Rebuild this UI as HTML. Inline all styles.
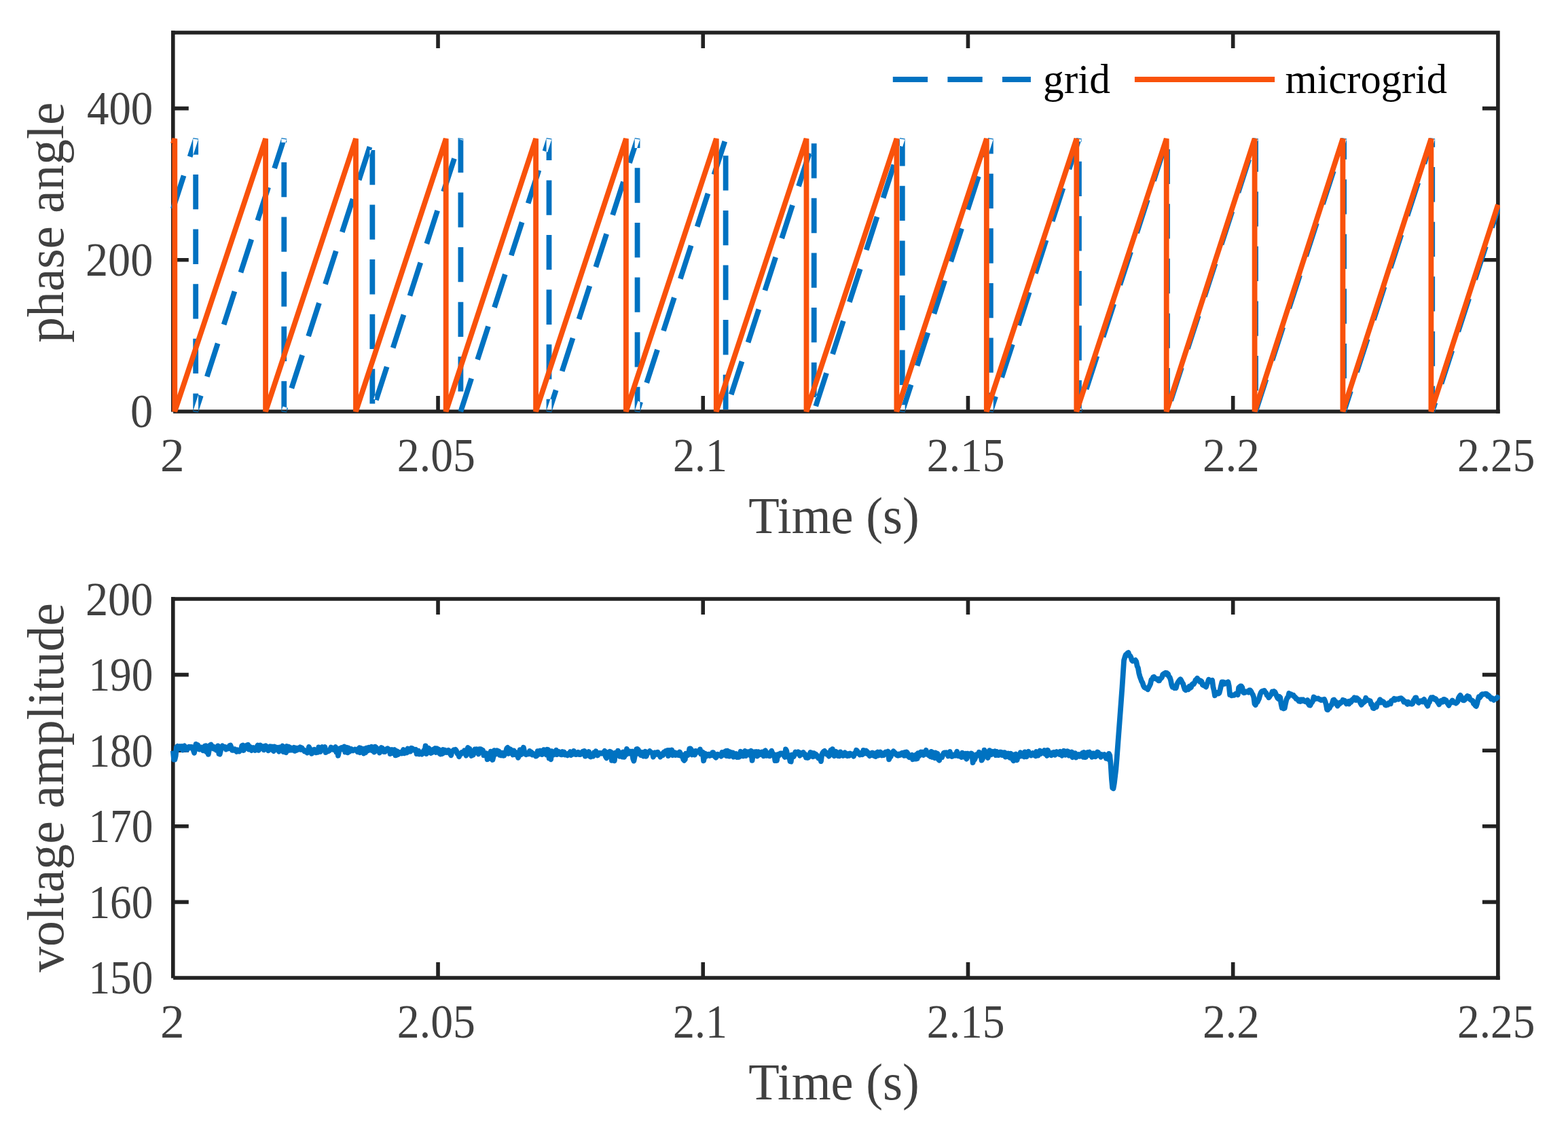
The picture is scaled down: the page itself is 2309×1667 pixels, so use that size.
<!DOCTYPE html><html><head><meta charset="utf-8"><style>html,body{margin:0;padding:0;background:#fff;width:2309px;height:1667px;overflow:hidden;}svg{display:block}</style></head><body>
<svg width="2309" height="1667" viewBox="0 0 2309 1667">
<rect width="2309" height="1667" fill="#fff"/>
<path d="M254.8 382.8H277.8M2205.9 382.8H2182.9M254.8 159.6H277.8M2205.9 159.6H2182.9M645.02 606V583M645.02 48V71M1035.24 606V583M1035.24 48V71M1425.46 606V583M1425.46 48V71M1815.68 606V583M1815.68 48V71M254.8 606.6V48H2205.9V606H255.1" stroke="#222222" stroke-width="5.6" fill="none" stroke-linejoin="miter" stroke-linecap="butt"/>
<path d="M252 45.2h5.6v5.6h-5.6zM2203.1 603.2h5.6v5.6h-5.6z" fill="#222222"/>
<defs><clipPath id="c1"><rect x="251" y="44" width="1957.9" height="565"/></clipPath><clipPath id="c2"><rect x="251" y="878" width="1957.9" height="565"/></clipPath></defs>
<g clip-path="url(#c1)"><path d="M258.51 308.60L274.31 259.80L266.89 257.40L251.09 306.20ZM283.34 231.92L291.91 205.44L284.30 204.24L284.30 227.70L292.10 227.70L292.10 204.24L284.49 203.04L275.92 229.52ZM284.30 257.00L284.30 308.30L292.10 308.30L292.10 257.00ZM284.30 337.60L284.30 388.90L292.10 388.90L292.10 337.60ZM284.30 418.20L284.30 469.50L292.10 469.50L292.10 418.20ZM284.30 498.80L284.30 550.10L292.10 550.10L292.10 498.80ZM284.30 579.40L284.30 606.00L291.91 607.20L299.52 583.70L292.10 581.30L284.49 604.80L292.10 606.00L292.10 579.40ZM308.54 555.82L324.35 507.02L316.93 504.61L301.12 553.42ZM333.37 479.14L349.17 430.34L341.75 427.93L325.95 476.74ZM358.20 402.46L374.00 353.65L366.58 351.25L350.78 400.06ZM383.02 325.78L398.82 276.97L391.40 274.57L375.60 323.38ZM407.85 249.10L421.98 205.44L414.37 204.24L414.37 209.65L422.17 209.65L422.17 204.24L414.56 203.04L400.43 246.69ZM414.37 238.95L414.37 290.25L422.17 290.25L422.17 238.95ZM414.37 319.55L414.37 370.85L422.17 370.85L422.17 319.55ZM414.37 400.15L414.37 451.45L422.17 451.45L422.17 400.15ZM414.37 480.75L414.37 532.05L422.17 532.05L422.17 480.75ZM414.37 561.35L414.37 606.00L421.98 607.20L424.03 600.87L416.61 598.47L414.56 604.80L422.17 606.00L422.17 561.35ZM433.06 573.00L448.86 524.19L441.44 521.79L425.64 570.59ZM457.88 496.31L473.69 447.51L466.26 445.11L450.46 493.91ZM482.71 419.63L498.51 370.83L491.09 368.43L475.29 417.23ZM507.54 342.95L523.34 294.15L515.92 291.74L500.12 340.55ZM532.36 266.27L548.16 217.47L540.74 215.06L524.94 263.87ZM544.45 220.90L544.45 272.20L552.25 272.20L552.25 220.90ZM544.45 301.50L544.45 352.80L552.25 352.80L552.25 301.50ZM544.45 382.10L544.45 433.40L552.25 433.40L552.25 382.10ZM544.45 462.70L544.45 514.00L552.25 514.00L552.25 462.70ZM544.45 543.30L544.45 594.60L552.25 594.60L552.25 543.30ZM557.57 590.17L573.37 541.36L565.95 538.96L550.15 587.77ZM582.40 513.49L598.20 464.68L590.78 462.28L574.98 511.09ZM607.22 436.81L623.02 388.00L615.60 385.60L599.80 434.40ZM632.05 360.13L647.85 311.32L640.43 308.92L624.63 357.72ZM656.88 283.44L672.68 234.64L665.26 232.24L649.46 281.04ZM681.70 206.76L682.13 205.44L674.52 204.24L674.52 254.15L682.32 254.15L682.32 204.24L674.71 203.04L674.28 204.36ZM674.52 283.45L674.52 334.75L682.32 334.75L682.32 283.45ZM674.52 364.05L674.52 415.35L682.32 415.35L682.32 364.05ZM674.52 444.65L674.52 495.95L682.32 495.95L682.32 444.65ZM674.52 525.25L674.52 576.55L682.32 576.55L682.32 525.25ZM674.52 605.85L674.52 606.00L682.13 607.20L697.89 558.54L690.46 556.14L674.71 604.80L682.32 606.00L682.32 605.85ZM706.91 530.66L722.71 481.86L715.29 479.45L699.49 528.26ZM731.74 453.98L747.54 405.18L740.12 402.77L724.32 451.58ZM756.56 377.30L772.36 328.49L764.94 326.09L749.14 374.90ZM781.39 300.62L797.19 251.81L789.77 249.41L773.97 298.22ZM806.22 223.94L812.20 205.44L804.59 204.24L804.59 236.10L812.39 236.10L812.39 204.24L804.78 203.04L798.79 221.54ZM804.59 265.40L804.59 316.70L812.39 316.70L812.39 265.40ZM804.59 346.00L804.59 397.30L812.39 397.30L812.39 346.00ZM804.59 426.60L804.59 477.90L812.39 477.90L812.39 426.60ZM804.59 507.20L804.59 558.50L812.39 558.50L812.39 507.20ZM804.59 587.80L804.59 606.00L812.20 607.20L822.40 575.71L814.98 573.31L804.78 604.80L812.39 606.00L812.39 587.80ZM831.42 547.84L847.22 499.03L839.80 496.63L824.00 545.43ZM856.25 471.16L872.05 422.35L864.63 419.95L848.83 468.75ZM881.08 394.47L896.88 345.67L889.46 343.27L873.66 392.07ZM905.90 317.79L921.70 268.99L914.28 266.58L898.48 315.39ZM930.73 241.11L942.28 205.44L934.67 204.24L934.67 218.05L942.47 218.05L942.47 204.24L934.86 203.04L923.31 238.71ZM934.67 247.35L934.67 298.65L942.47 298.65L942.47 247.35ZM934.67 327.95L934.67 379.25L942.47 379.25L942.47 327.95ZM934.67 408.55L934.67 459.85L942.47 459.85L942.47 408.55ZM934.67 489.15L934.67 540.45L942.47 540.45L942.47 489.15ZM934.67 569.75L934.67 606.00L942.28 607.20L946.91 592.89L939.49 590.48L934.86 604.80L942.47 606.00L942.47 569.75ZM955.94 565.01L971.74 516.20L964.32 513.80L948.52 562.61ZM980.76 488.33L996.56 439.52L989.14 437.12L973.34 485.93ZM1005.59 411.65L1021.39 362.84L1013.97 360.44L998.17 409.25ZM1030.42 334.97L1046.22 286.16L1038.80 283.76L1022.99 332.56ZM1055.24 258.29L1071.04 209.48L1063.62 207.08L1047.82 255.88ZM1064.74 229.30L1064.74 280.60L1072.54 280.60L1072.54 229.30ZM1064.74 309.90L1064.74 361.20L1072.54 361.20L1072.54 309.90ZM1064.74 390.50L1064.74 441.80L1072.54 441.80L1072.54 390.50ZM1064.74 471.10L1064.74 522.40L1072.54 522.40L1072.54 471.10ZM1064.74 551.70L1064.74 603.00L1072.54 603.00L1072.54 551.70ZM1080.45 582.18L1096.25 533.38L1088.83 530.98L1073.03 579.78ZM1105.28 505.50L1121.08 456.70L1113.66 454.29L1097.86 503.10ZM1130.10 428.82L1145.90 380.02L1138.48 377.61L1122.68 426.42ZM1154.93 352.14L1170.73 303.33L1163.31 300.93L1147.51 349.74ZM1179.75 275.46L1195.56 226.65L1188.14 224.25L1172.33 273.06ZM1194.81 211.24L1194.81 262.54L1202.61 262.54L1202.61 211.24ZM1194.81 291.84L1194.81 343.14L1202.61 343.14L1202.61 291.84ZM1194.81 372.44L1194.81 423.74L1202.61 423.74L1202.61 372.44ZM1194.81 453.04L1194.81 504.34L1202.61 504.34L1202.61 453.04ZM1194.81 533.64L1194.81 584.94L1202.61 584.94L1202.61 533.64ZM1204.96 599.36L1220.76 550.55L1213.34 548.15L1197.54 596.96ZM1229.79 522.68L1245.59 473.87L1238.17 471.47L1222.37 520.27ZM1254.62 446.00L1270.42 397.19L1263.00 394.79L1247.19 443.59ZM1279.44 369.31L1295.24 320.51L1287.82 318.11L1272.02 366.91ZM1304.27 292.63L1320.07 243.83L1312.65 241.42L1296.85 290.23ZM1329.09 215.95L1332.50 205.44L1324.89 204.24L1324.89 244.49L1332.69 244.49L1332.69 204.24L1325.08 203.04L1321.67 213.55ZM1324.89 273.79L1324.89 325.09L1332.69 325.09L1332.69 273.79ZM1324.89 354.39L1324.89 405.69L1332.69 405.69L1332.69 354.39ZM1324.89 434.99L1324.89 486.29L1332.69 486.29L1332.69 434.99ZM1324.89 515.59L1324.89 566.89L1332.69 566.89L1332.69 515.59ZM1324.89 596.19L1324.89 606.00L1332.50 607.20L1345.28 567.73L1337.86 565.32L1325.08 604.80L1332.69 606.00L1332.69 596.19ZM1354.30 539.85L1370.10 491.05L1362.68 488.64L1346.88 537.45ZM1379.13 463.17L1394.93 414.36L1387.51 411.96L1371.71 460.77ZM1403.95 386.49L1419.76 337.68L1412.34 335.28L1396.53 384.09ZM1428.78 309.81L1444.58 261.00L1437.16 258.60L1421.36 307.40ZM1453.61 233.13L1462.57 205.44L1454.96 204.24L1454.96 226.44L1462.76 226.44L1462.76 204.24L1455.15 203.04L1446.19 230.72ZM1454.96 255.74L1454.96 307.04L1462.76 307.04L1462.76 255.74ZM1454.96 336.34L1454.96 387.64L1462.76 387.64L1462.76 336.34ZM1454.96 416.94L1454.96 468.24L1462.76 468.24L1462.76 416.94ZM1454.96 497.54L1454.96 548.84L1462.76 548.84L1462.76 497.54ZM1454.96 578.14L1454.96 606.00L1462.57 607.20L1469.79 584.90L1462.37 582.50L1455.15 604.80L1462.76 606.00L1462.76 578.14ZM1478.82 557.02L1494.62 508.22L1487.20 505.82L1471.39 554.62ZM1503.64 480.34L1519.44 431.54L1512.02 429.14L1496.22 477.94ZM1528.47 403.66L1544.27 354.86L1536.85 352.45L1521.05 401.26ZM1553.29 326.98L1569.10 278.18L1561.67 275.77L1545.87 324.58ZM1578.12 250.30L1592.64 205.44L1585.03 204.24L1585.03 208.39L1592.83 208.39L1592.83 204.24L1585.22 203.04L1570.70 247.90ZM1585.03 237.69L1585.03 288.99L1592.83 288.99L1592.83 237.69ZM1585.03 318.29L1585.03 369.59L1592.83 369.59L1592.83 318.29ZM1585.03 398.89L1585.03 450.19L1592.83 450.19L1592.83 398.89ZM1585.03 479.49L1585.03 530.79L1592.83 530.79L1592.83 479.49ZM1585.03 560.09L1585.03 606.00L1592.64 607.20L1594.30 602.07L1586.88 599.67L1585.22 604.80L1592.83 606.00L1592.83 560.09ZM1603.33 574.20L1619.13 525.39L1611.71 522.99L1595.91 571.80ZM1628.15 497.52L1643.96 448.71L1636.54 446.31L1620.73 495.11ZM1652.98 420.84L1668.78 372.03L1661.36 369.63L1645.56 418.43ZM1677.81 344.15L1693.61 295.35L1686.19 292.95L1670.39 341.75ZM1702.63 267.47L1718.43 218.67L1711.01 216.27L1695.21 265.07ZM1715.11 219.64L1715.11 270.94L1722.91 270.94L1722.91 219.64ZM1715.11 300.24L1715.11 351.54L1722.91 351.54L1722.91 300.24ZM1715.11 380.84L1715.11 432.14L1722.91 432.14L1722.91 380.84ZM1715.11 461.44L1715.11 512.74L1722.91 512.74L1722.91 461.44ZM1715.11 542.04L1715.11 593.34L1722.91 593.34L1722.91 542.04ZM1727.84 591.37L1743.64 542.57L1736.22 540.16L1720.42 588.97ZM1752.67 514.69L1768.47 465.89L1761.05 463.48L1745.25 512.29ZM1777.49 438.01L1793.30 389.20L1785.87 386.80L1770.07 435.61ZM1802.32 361.33L1818.12 312.52L1810.70 310.12L1794.90 358.93ZM1827.15 284.65L1842.95 235.84L1835.53 233.44L1819.73 282.25ZM1851.97 207.97L1852.79 205.44L1845.18 204.24L1845.18 252.89L1852.98 252.89L1852.98 204.24L1845.37 203.04L1844.55 205.56ZM1845.18 282.19L1845.18 333.49L1852.98 333.49L1852.98 282.19ZM1845.18 362.79L1845.18 414.09L1852.98 414.09L1852.98 362.79ZM1845.18 443.39L1845.18 494.69L1852.98 494.69L1852.98 443.39ZM1845.18 523.99L1845.18 575.29L1852.98 575.29L1852.98 523.99ZM1845.18 604.59L1845.18 606.00L1852.79 607.20L1868.16 559.74L1860.74 557.34L1845.37 604.80L1852.98 606.00L1852.98 604.59ZM1877.18 531.87L1892.98 483.06L1885.56 480.66L1869.76 529.46ZM1902.01 455.18L1917.81 406.38L1910.39 403.98L1894.59 452.78ZM1926.83 378.50L1942.63 329.70L1935.21 327.29L1919.41 376.10ZM1951.66 301.82L1967.46 253.02L1960.04 250.61L1944.24 299.42ZM1976.49 225.14L1982.86 205.44L1975.25 204.24L1975.25 234.83L1983.05 234.83L1983.05 204.24L1975.44 203.04L1969.07 222.74ZM1975.25 264.13L1975.25 315.43L1983.05 315.43L1983.05 264.13ZM1975.25 344.73L1975.25 396.03L1983.05 396.03L1983.05 344.73ZM1975.25 425.33L1975.25 476.63L1983.05 476.63L1983.05 425.33ZM1975.25 505.93L1975.25 557.23L1983.05 557.23L1983.05 505.93ZM1975.25 586.53L1975.25 606.00L1982.86 607.20L1992.67 576.91L1985.25 574.51L1975.44 604.80L1983.05 606.00L1983.05 586.53ZM2001.69 549.04L2017.50 500.23L2010.07 497.83L1994.27 546.64ZM2026.52 472.36L2042.32 423.55L2034.90 421.15L2019.10 469.96ZM2051.35 395.68L2067.15 346.87L2059.73 344.47L2043.93 393.27ZM2076.17 319.00L2091.97 270.19L2084.55 267.79L2068.75 316.59ZM2101.00 242.31L2112.94 205.44L2105.33 204.24L2105.33 216.78L2113.13 216.78L2113.13 204.24L2105.52 203.04L2093.58 239.91ZM2105.33 246.08L2105.33 297.38L2113.13 297.38L2113.13 246.08ZM2105.33 326.68L2105.33 377.98L2113.13 377.98L2113.13 326.68ZM2105.33 407.28L2105.33 458.58L2113.13 458.58L2113.13 407.28ZM2105.33 487.88L2105.33 539.18L2113.13 539.18L2113.13 487.88ZM2105.33 568.48L2105.33 606.00L2112.94 607.20L2117.18 594.09L2109.76 591.69L2105.52 604.80L2113.13 606.00L2113.13 568.48ZM2126.21 566.21L2142.01 517.41L2134.59 515.00L2118.79 563.81ZM2151.03 489.53L2166.83 440.73L2159.41 438.32L2143.61 487.13ZM2175.86 412.85L2191.66 364.04L2184.24 361.64L2168.44 410.45ZM2200.69 336.17L2209.61 308.60L2202.19 306.20L2193.27 333.77Z" fill="#0072C1" fill-rule="evenodd"/>
<path d="M254.8 211.75 L257.3 204.24 L257.3 606 L391.1 204.24 L391.1 606 L524 204.24 L524 606 L656.7 204.24 L656.7 606 L789.1 204.24 L789.1 606 L921.9 204.24 L921.9 606 L1054.8 204.24 L1054.8 606 L1187.5 204.24 L1187.5 606 L1320.4 204.24 L1320.4 606 L1452.8 204.24 L1452.8 606 L1585.3 204.24 L1585.3 606 L1717.7 204.24 L1717.7 606 L1847.6 204.24 L1847.6 606 L1977.4 204.24 L1977.4 606 L2107.4 204.24 L2107.4 606 L2205.9 301.36" stroke="#F9520B" stroke-width="7.8" fill="none" stroke-linejoin="bevel"/></g>
<path d="M254.8 1328.4H277.8M2205.9 1328.4H2182.9M254.8 1216.8H277.8M2205.9 1216.8H2182.9M254.8 1105.2H277.8M2205.9 1105.2H2182.9M254.8 993.6H277.8M2205.9 993.6H2182.9M645.02 1440V1417M645.02 882V905M1035.24 1440V1417M1035.24 882V905M1425.46 1440V1417M1425.46 882V905M1815.68 1440V1417M1815.68 882V905M254.8 1440.6V882H2205.9V1440H255.1" stroke="#222222" stroke-width="5.6" fill="none" stroke-linejoin="miter" stroke-linecap="butt"/>
<path d="M252 879.2h5.6v5.6h-5.6zM2203.1 1437.2h5.6v5.6h-5.6z" fill="#222222"/>
<g clip-path="url(#c2)"><path d="M254.8 1105.5 L256.1 1118.5 L257.4 1118.5 L258.7 1113.0 L260.0 1100.0 L261.3 1099.0 L262.6 1102.8 L263.9 1102.1 L265.2 1099.0 L266.5 1100.7 L267.8 1099.2 L269.1 1104.6 L270.4 1099.6 L271.7 1098.5 L273.0 1103.9 L274.3 1103.5 L275.6 1104.0 L276.9 1102.2 L278.2 1099.7 L279.5 1099.8 L280.8 1100.1 L282.1 1100.0 L283.4 1102.7 L284.7 1104.5 L286.0 1108.7 L287.3 1102.2 L288.6 1095.9 L289.9 1102.6 L291.2 1097.0 L292.5 1099.6 L293.8 1103.5 L295.1 1101.6 L296.4 1100.6 L297.7 1102.7 L299.0 1105.3 L300.3 1105.1 L301.6 1098.6 L302.9 1098.3 L304.2 1107.1 L305.5 1105.7 L306.8 1110.8 L308.1 1103.5 L309.4 1097.3 L310.7 1096.5 L312.0 1098.6 L313.3 1101.8 L314.6 1102.6 L315.9 1100.2 L317.2 1102.1 L318.5 1104.8 L319.8 1104.8 L321.1 1098.4 L322.4 1110.2 L323.7 1110.7 L325.0 1105.2 L326.3 1100.8 L327.6 1098.4 L328.9 1100.9 L330.2 1099.9 L331.5 1100.0 L332.8 1103.5 L334.1 1102.2 L335.4 1102.5 L336.7 1102.4 L338.0 1098.1 L339.3 1097.5 L340.6 1100.6 L341.9 1104.7 L343.2 1103.1 L344.5 1104.6 L345.8 1103.3 L347.1 1104.9 L348.4 1106.8 L349.7 1104.4 L351.0 1105.6 L352.3 1106.5 L353.6 1104.3 L354.9 1104.7 L356.2 1098.2 L357.5 1097.6 L358.8 1105.0 L360.1 1098.9 L361.4 1099.3 L362.7 1097.8 L364.0 1102.0 L365.3 1096.9 L366.6 1103.6 L367.9 1099.4 L369.2 1103.4 L370.5 1105.0 L371.8 1103.3 L373.1 1101.1 L374.4 1102.9 L375.7 1105.0 L377.0 1103.7 L378.3 1099.7 L379.6 1097.5 L380.9 1104.8 L382.2 1102.5 L383.5 1097.6 L384.8 1101.6 L386.1 1101.9 L387.4 1099.3 L388.7 1104.4 L390.0 1098.9 L391.3 1098.2 L392.6 1099.9 L393.9 1100.3 L395.2 1105.3 L396.5 1103.7 L397.8 1099.3 L399.1 1101.9 L400.4 1099.5 L401.7 1104.8 L403.0 1106.1 L404.3 1099.5 L405.6 1102.9 L406.9 1100.6 L408.2 1100.9 L409.5 1104.7 L410.8 1106.6 L412.1 1100.5 L413.4 1102.7 L414.7 1100.7 L416.0 1098.6 L417.3 1107.0 L418.6 1103.1 L419.9 1107.6 L421.2 1108.1 L422.5 1099.0 L423.8 1102.9 L425.1 1099.7 L426.4 1104.7 L427.7 1100.9 L429.0 1104.6 L430.3 1104.5 L431.6 1103.9 L432.9 1100.8 L434.2 1105.9 L435.5 1101.5 L436.8 1104.8 L438.1 1101.9 L439.4 1101.4 L440.7 1103.5 L442.0 1100.3 L443.3 1103.9 L444.6 1101.4 L445.9 1104.1 L447.2 1104.1 L448.5 1106.6 L449.8 1106.6 L451.1 1106.6 L452.4 1108.5 L453.7 1104.9 L455.0 1100.1 L456.3 1102.9 L457.6 1103.6 L458.9 1109.8 L460.2 1108.1 L461.5 1107.0 L462.8 1103.7 L464.1 1107.9 L465.4 1108.4 L466.7 1107.0 L468.0 1107.7 L469.3 1100.4 L470.6 1105.8 L471.9 1106.8 L473.2 1103.4 L474.5 1100.1 L475.8 1104.2 L477.1 1101.8 L478.4 1100.1 L479.7 1108.0 L481.0 1107.1 L482.3 1105.4 L483.6 1106.3 L484.9 1105.5 L486.2 1103.6 L487.5 1100.6 L488.8 1101.9 L490.1 1103.7 L491.4 1104.2 L492.7 1101.7 L494.0 1100.0 L495.3 1107.7 L496.6 1106.3 L497.9 1112.7 L499.2 1106.6 L500.5 1102.2 L501.8 1103.5 L503.1 1101.1 L504.4 1103.3 L505.7 1103.9 L507.0 1099.6 L508.3 1107.5 L509.6 1104.1 L510.9 1100.9 L512.2 1108.3 L513.5 1101.5 L514.8 1106.6 L516.1 1104.8 L517.4 1103.1 L518.7 1104.3 L520.0 1105.4 L521.3 1104.5 L522.6 1103.5 L523.9 1104.9 L525.2 1105.0 L526.5 1107.1 L527.8 1102.8 L529.1 1101.5 L530.4 1108.2 L531.7 1101.7 L533.0 1106.5 L534.3 1105.8 L535.6 1109.5 L536.9 1102.6 L538.2 1108.4 L539.5 1101.6 L540.8 1101.5 L542.1 1105.3 L543.4 1100.7 L544.7 1104.0 L546.0 1104.5 L547.3 1099.7 L548.6 1105.5 L549.9 1102.5 L551.2 1107.5 L552.5 1099.7 L553.8 1100.6 L555.1 1105.6 L556.4 1102.8 L557.7 1104.2 L559.0 1108.6 L560.3 1103.7 L561.6 1101.1 L562.9 1101.8 L564.2 1105.3 L565.5 1107.2 L566.8 1107.1 L568.1 1104.7 L569.4 1102.9 L570.7 1102.2 L572.0 1103.4 L573.3 1103.6 L574.6 1110.1 L575.9 1106.2 L577.2 1104.1 L578.5 1108.9 L579.8 1107.6 L581.1 1104.1 L582.4 1112.3 L583.7 1112.1 L585.0 1106.2 L586.3 1111.1 L587.6 1107.7 L588.9 1109.4 L590.2 1109.1 L591.5 1109.5 L592.8 1106.8 L594.1 1104.0 L595.4 1109.4 L596.7 1106.0 L598.0 1105.8 L599.3 1108.3 L600.6 1102.5 L601.9 1105.0 L603.2 1104.5 L604.5 1106.5 L605.8 1101.7 L607.1 1102.0 L608.4 1103.3 L609.7 1103.7 L611.0 1105.4 L612.3 1103.8 L613.6 1110.1 L614.9 1106.0 L616.2 1105.8 L617.5 1110.4 L618.8 1109.6 L620.1 1109.4 L621.4 1110.6 L622.7 1109.0 L624.0 1105.3 L625.3 1106.6 L626.6 1098.4 L627.9 1110.1 L629.2 1105.9 L630.5 1101.4 L631.8 1102.4 L633.1 1105.2 L634.4 1109.0 L635.7 1108.4 L637.0 1107.8 L638.3 1103.4 L639.6 1105.2 L640.9 1102.1 L642.2 1108.0 L643.5 1102.2 L644.8 1105.5 L646.1 1103.6 L647.4 1109.8 L648.7 1110.5 L650.0 1105.1 L651.3 1110.0 L652.6 1104.0 L653.9 1108.5 L655.2 1104.6 L656.5 1106.4 L657.8 1107.9 L659.1 1105.9 L660.4 1104.8 L661.7 1108.4 L663.0 1110.3 L664.3 1112.2 L665.6 1106.4 L666.9 1105.8 L668.2 1104.3 L669.5 1105.4 L670.8 1103.9 L672.1 1105.8 L673.4 1109.9 L674.7 1109.7 L676.0 1114.3 L677.3 1111.3 L678.6 1110.7 L679.9 1107.9 L681.2 1107.7 L682.5 1108.0 L683.8 1105.4 L685.1 1109.5 L686.4 1112.6 L687.7 1105.1 L689.0 1100.9 L690.3 1105.2 L691.6 1102.8 L692.9 1107.0 L694.2 1113.0 L695.5 1106.9 L696.8 1111.8 L698.1 1108.8 L699.4 1103.4 L700.7 1105.1 L702.0 1103.3 L703.3 1107.2 L704.6 1110.4 L705.9 1103.2 L707.2 1103.2 L708.5 1103.4 L709.8 1105.8 L711.1 1105.1 L712.4 1112.2 L713.7 1110.8 L715.0 1112.3 L716.3 1109.4 L717.6 1118.2 L718.9 1117.3 L720.2 1113.6 L721.5 1116.6 L722.8 1106.6 L724.1 1108.0 L725.4 1119.0 L726.7 1113.7 L728.0 1105.2 L729.3 1111.0 L730.6 1107.7 L731.9 1105.3 L733.2 1106.7 L734.5 1106.5 L735.8 1111.9 L737.1 1108.4 L738.4 1112.4 L739.7 1108.7 L741.0 1112.8 L742.3 1112.7 L743.6 1109.7 L744.9 1106.8 L746.2 1102.4 L747.5 1100.9 L748.8 1109.8 L750.1 1105.0 L751.4 1103.3 L752.7 1104.4 L754.0 1105.5 L755.3 1111.5 L756.6 1105.4 L757.9 1111.0 L759.2 1107.8 L760.5 1108.9 L761.8 1112.3 L763.1 1115.8 L764.4 1111.2 L765.7 1104.2 L767.0 1111.5 L768.3 1110.3 L769.6 1105.8 L770.9 1100.8 L772.2 1106.8 L773.5 1110.4 L774.8 1111.3 L776.1 1110.5 L777.4 1109.8 L778.7 1110.3 L780.0 1105.9 L781.3 1108.6 L782.6 1107.8 L783.9 1111.5 L785.2 1109.9 L786.5 1111.8 L787.8 1111.8 L789.1 1113.6 L790.4 1113.1 L791.7 1106.1 L793.0 1111.1 L794.3 1108.2 L795.6 1105.5 L796.9 1108.3 L798.2 1111.0 L799.5 1110.3 L800.8 1104.1 L802.1 1104.7 L803.4 1108.9 L804.7 1111.3 L806.0 1103.8 L807.3 1104.1 L808.6 1116.6 L809.9 1116.2 L811.2 1118.2 L812.5 1106.1 L813.8 1108.8 L815.1 1111.5 L816.4 1107.9 L817.7 1107.9 L819.0 1104.7 L820.3 1111.1 L821.6 1108.0 L822.9 1107.2 L824.2 1109.5 L825.5 1111.2 L826.8 1111.3 L828.1 1106.9 L829.4 1109.3 L830.7 1107.6 L832.0 1111.7 L833.3 1111.6 L834.6 1110.7 L835.9 1112.3 L837.2 1109.8 L838.5 1110.5 L839.8 1107.1 L841.1 1111.9 L842.4 1108.4 L843.7 1110.7 L845.0 1105.9 L846.3 1109.2 L847.6 1111.0 L848.9 1111.1 L850.2 1110.4 L851.5 1107.7 L852.8 1111.1 L854.1 1111.2 L855.4 1110.6 L856.7 1108.7 L858.0 1106.9 L859.3 1110.4 L860.6 1106.1 L861.9 1113.6 L863.2 1108.9 L864.5 1108.4 L865.8 1109.9 L867.1 1107.0 L868.4 1113.7 L869.7 1114.5 L871.0 1113.1 L872.3 1110.8 L873.6 1113.7 L874.9 1108.3 L876.2 1109.2 L877.5 1106.4 L878.8 1108.3 L880.1 1112.4 L881.4 1110.0 L882.7 1108.9 L884.0 1108.8 L885.3 1109.7 L886.6 1109.6 L887.9 1108.4 L889.2 1109.1 L890.5 1105.8 L891.8 1114.1 L893.1 1116.3 L894.4 1112.6 L895.7 1107.9 L897.0 1112.5 L898.3 1106.8 L899.6 1107.3 L900.9 1119.9 L902.2 1113.8 L903.5 1115.2 L904.8 1120.4 L906.1 1108.7 L907.4 1112.2 L908.7 1111.8 L910.0 1105.6 L911.3 1107.5 L912.6 1113.7 L913.9 1108.9 L915.2 1109.8 L916.5 1114.5 L917.8 1107.4 L919.1 1114.9 L920.4 1112.0 L921.7 1111.8 L923.0 1102.9 L924.3 1108.2 L925.6 1109.7 L926.9 1109.4 L928.2 1106.6 L929.5 1107.1 L930.8 1106.6 L932.1 1117.1 L933.4 1120.6 L934.7 1114.0 L936.0 1109.2 L937.3 1103.2 L938.6 1103.0 L939.9 1104.0 L941.2 1109.9 L942.5 1107.0 L943.8 1112.1 L945.1 1109.7 L946.4 1108.2 L947.7 1113.5 L949.0 1111.3 L950.3 1106.7 L951.6 1113.7 L952.9 1110.4 L954.2 1108.4 L955.5 1107.5 L956.8 1106.1 L958.1 1107.7 L959.4 1108.2 L960.7 1108.9 L962.0 1114.6 L963.3 1111.5 L964.6 1108.3 L965.9 1110.0 L967.2 1110.7 L968.5 1107.7 L969.8 1111.0 L971.1 1111.3 L972.4 1114.7 L973.7 1110.4 L975.0 1112.5 L976.3 1112.2 L977.6 1107.6 L978.9 1107.3 L980.2 1106.0 L981.5 1106.6 L982.8 1105.1 L984.1 1113.1 L985.4 1104.9 L986.7 1111.5 L988.0 1106.9 L989.3 1104.5 L990.6 1112.2 L991.9 1109.8 L993.2 1108.0 L994.5 1112.1 L995.8 1111.3 L997.1 1109.1 L998.4 1111.9 L999.7 1112.2 L1001.0 1107.4 L1002.3 1112.0 L1003.6 1113.7 L1004.9 1111.7 L1006.2 1118.3 L1007.5 1119.9 L1008.8 1118.3 L1010.1 1109.8 L1011.4 1110.6 L1012.7 1112.2 L1014.0 1110.9 L1015.3 1102.6 L1016.6 1102.3 L1017.9 1103.8 L1019.2 1111.5 L1020.5 1106.3 L1021.8 1107.1 L1023.1 1111.6 L1024.4 1105.9 L1025.7 1107.6 L1027.0 1107.8 L1028.3 1106.3 L1029.6 1106.8 L1030.9 1103.5 L1032.2 1110.3 L1033.5 1109.8 L1034.8 1107.6 L1036.1 1120.3 L1037.4 1114.3 L1038.7 1109.8 L1040.0 1113.7 L1041.3 1110.7 L1042.6 1112.2 L1043.9 1110.8 L1045.2 1112.9 L1046.5 1110.9 L1047.8 1112.1 L1049.1 1108.2 L1050.4 1108.1 L1051.7 1112.2 L1053.0 1114.5 L1054.3 1115.7 L1055.6 1113.6 L1056.9 1110.8 L1058.2 1111.4 L1059.5 1111.3 L1060.8 1111.6 L1062.1 1113.6 L1063.4 1108.0 L1064.7 1108.9 L1066.0 1111.8 L1067.3 1107.0 L1068.6 1106.1 L1069.9 1113.1 L1071.2 1105.7 L1072.5 1113.3 L1073.8 1113.6 L1075.1 1107.2 L1076.4 1112.4 L1077.7 1108.4 L1079.0 1108.4 L1080.3 1114.6 L1081.6 1113.8 L1082.9 1112.8 L1084.2 1110.1 L1085.5 1114.9 L1086.8 1111.4 L1088.1 1114.9 L1089.4 1112.7 L1090.7 1106.8 L1092.0 1113.2 L1093.3 1113.3 L1094.6 1113.5 L1095.9 1111.1 L1097.2 1106.0 L1098.5 1113.1 L1099.8 1109.2 L1101.1 1107.2 L1102.4 1107.2 L1103.7 1107.1 L1105.0 1112.2 L1106.3 1105.7 L1107.6 1119.8 L1108.9 1112.0 L1110.2 1111.3 L1111.5 1107.2 L1112.8 1109.9 L1114.1 1107.1 L1115.4 1113.5 L1116.7 1107.1 L1118.0 1109.8 L1119.3 1111.0 L1120.6 1109.6 L1121.9 1107.5 L1123.2 1108.0 L1124.5 1113.4 L1125.8 1106.3 L1127.1 1105.3 L1128.4 1112.8 L1129.7 1112.6 L1131.0 1110.8 L1132.3 1109.0 L1133.6 1113.3 L1134.9 1108.9 L1136.2 1105.7 L1137.5 1109.6 L1138.8 1110.7 L1140.1 1111.0 L1141.4 1120.1 L1142.7 1113.2 L1144.0 1120.0 L1145.3 1111.2 L1146.6 1113.0 L1147.9 1110.3 L1149.2 1109.4 L1150.5 1109.8 L1151.8 1109.4 L1153.1 1111.1 L1154.4 1112.6 L1155.7 1114.8 L1157.0 1103.4 L1158.3 1105.9 L1159.6 1112.6 L1160.9 1115.2 L1162.2 1114.3 L1163.5 1121.2 L1164.8 1121.5 L1166.1 1111.6 L1167.4 1114.4 L1168.7 1114.3 L1170.0 1111.6 L1171.3 1107.4 L1172.6 1109.7 L1173.9 1108.1 L1175.2 1107.3 L1176.5 1108.2 L1177.8 1112.7 L1179.1 1108.8 L1180.4 1109.7 L1181.7 1109.6 L1183.0 1108.2 L1184.3 1111.8 L1185.6 1110.7 L1186.9 1115.4 L1188.2 1112.8 L1189.5 1116.0 L1190.8 1115.1 L1192.1 1112.0 L1193.4 1107.9 L1194.7 1109.7 L1196.0 1109.0 L1197.3 1114.3 L1198.6 1109.1 L1199.9 1113.5 L1201.2 1110.6 L1202.5 1111.8 L1203.8 1114.0 L1205.1 1116.4 L1206.4 1115.1 L1207.7 1115.8 L1209.0 1121.1 L1210.3 1110.9 L1211.6 1108.3 L1212.9 1106.8 L1214.2 1105.9 L1215.5 1108.0 L1216.8 1110.3 L1218.1 1108.9 L1219.4 1111.9 L1220.7 1113.5 L1222.0 1110.0 L1223.3 1105.1 L1224.6 1109.0 L1225.9 1103.1 L1227.2 1112.1 L1228.5 1113.2 L1229.8 1112.4 L1231.1 1106.7 L1232.4 1110.9 L1233.7 1112.8 L1235.0 1109.5 L1236.3 1113.2 L1237.6 1107.4 L1238.9 1110.5 L1240.2 1110.8 L1241.5 1112.8 L1242.8 1109.6 L1244.1 1108.3 L1245.4 1112.2 L1246.7 1111.0 L1248.0 1113.1 L1249.3 1110.0 L1250.6 1112.7 L1251.9 1109.6 L1253.2 1110.7 L1254.5 1111.6 L1255.8 1111.5 L1257.1 1113.7 L1258.4 1109.2 L1259.7 1109.8 L1261.0 1104.7 L1262.3 1105.8 L1263.6 1109.5 L1264.9 1109.0 L1266.2 1111.5 L1267.5 1108.8 L1268.8 1108.6 L1270.1 1111.1 L1271.4 1104.9 L1272.7 1106.7 L1274.0 1109.2 L1275.3 1105.5 L1276.6 1106.5 L1277.9 1110.3 L1279.2 1108.9 L1280.5 1113.2 L1281.8 1110.3 L1283.1 1112.0 L1284.4 1108.5 L1285.7 1108.8 L1287.0 1113.1 L1288.3 1111.2 L1289.6 1114.0 L1290.9 1108.5 L1292.2 1107.6 L1293.5 1112.6 L1294.8 1107.9 L1296.1 1107.5 L1297.4 1110.0 L1298.7 1112.3 L1300.0 1109.2 L1301.3 1112.2 L1302.6 1109.3 L1303.9 1107.7 L1305.2 1109.7 L1306.5 1110.4 L1307.8 1106.6 L1309.1 1118.4 L1310.4 1115.0 L1311.7 1114.2 L1313.0 1110.5 L1314.3 1107.8 L1315.6 1106.4 L1316.9 1107.9 L1318.2 1108.9 L1319.5 1111.2 L1320.8 1112.1 L1322.1 1112.7 L1323.4 1110.6 L1324.7 1112.3 L1326.0 1111.7 L1327.3 1109.5 L1328.6 1108.8 L1329.9 1110.3 L1331.2 1112.7 L1332.5 1108.0 L1333.8 1112.4 L1335.1 1107.4 L1336.4 1109.1 L1337.7 1113.7 L1339.0 1115.3 L1340.3 1115.4 L1341.6 1115.1 L1342.9 1111.7 L1344.2 1118.2 L1345.5 1114.9 L1346.8 1117.5 L1348.1 1117.6 L1349.4 1111.3 L1350.7 1117.3 L1352.0 1109.2 L1353.3 1113.5 L1354.6 1109.6 L1355.9 1107.7 L1357.2 1111.2 L1358.5 1107.6 L1359.8 1112.1 L1361.1 1108.9 L1362.4 1107.1 L1363.7 1104.8 L1365.0 1110.7 L1366.3 1110.5 L1367.6 1112.3 L1368.9 1109.1 L1370.2 1114.1 L1371.5 1106.9 L1372.8 1115.0 L1374.1 1114.0 L1375.4 1108.5 L1376.7 1116.2 L1378.0 1108.5 L1379.3 1114.2 L1380.6 1109.8 L1381.9 1118.5 L1383.2 1119.7 L1384.5 1113.6 L1385.8 1115.3 L1387.1 1115.3 L1388.4 1111.8 L1389.7 1109.0 L1391.0 1108.3 L1392.3 1108.5 L1393.6 1108.2 L1394.9 1110.1 L1396.2 1113.4 L1397.5 1110.4 L1398.8 1107.0 L1400.1 1113.0 L1401.4 1114.0 L1402.7 1113.7 L1404.0 1111.4 L1405.3 1111.8 L1406.6 1112.6 L1407.9 1110.9 L1409.2 1106.7 L1410.5 1113.2 L1411.8 1113.4 L1413.1 1113.1 L1414.4 1110.8 L1415.7 1115.0 L1417.0 1108.6 L1418.3 1114.5 L1419.6 1113.7 L1420.9 1115.0 L1422.2 1109.8 L1423.5 1117.7 L1424.8 1109.6 L1426.1 1110.6 L1427.4 1113.2 L1428.7 1113.3 L1430.0 1109.4 L1431.3 1110.0 L1432.6 1123.1 L1433.9 1117.7 L1435.2 1118.6 L1436.5 1115.5 L1437.8 1111.2 L1439.1 1112.2 L1440.4 1112.4 L1441.7 1107.8 L1443.0 1108.7 L1444.3 1110.9 L1445.6 1119.6 L1446.9 1117.5 L1448.2 1112.5 L1449.5 1104.7 L1450.8 1106.8 L1452.1 1108.4 L1453.4 1111.4 L1454.7 1115.9 L1456.0 1111.4 L1457.3 1105.1 L1458.6 1109.5 L1459.9 1111.2 L1461.2 1106.8 L1462.5 1108.3 L1463.8 1108.0 L1465.1 1106.3 L1466.4 1112.1 L1467.7 1106.9 L1469.0 1111.8 L1470.3 1112.1 L1471.6 1111.5 L1472.9 1107.5 L1474.2 1107.7 L1475.5 1112.0 L1476.8 1112.0 L1478.1 1108.1 L1479.4 1108.1 L1480.7 1114.6 L1482.0 1110.7 L1483.3 1114.0 L1484.6 1109.5 L1485.9 1110.2 L1487.2 1115.7 L1488.5 1109.8 L1489.8 1111.8 L1491.1 1118.2 L1492.4 1120.2 L1493.7 1111.5 L1495.0 1114.3 L1496.3 1110.6 L1497.6 1119.3 L1498.9 1113.4 L1500.2 1114.6 L1501.5 1113.2 L1502.8 1108.2 L1504.1 1113.4 L1505.4 1110.6 L1506.7 1113.0 L1508.0 1114.4 L1509.3 1107.4 L1510.6 1112.4 L1511.9 1114.2 L1513.2 1108.7 L1514.5 1106.8 L1515.8 1110.3 L1517.1 1111.2 L1518.4 1112.5 L1519.7 1111.4 L1521.0 1109.0 L1522.3 1111.2 L1523.6 1112.5 L1524.9 1113.3 L1526.2 1107.0 L1527.5 1107.7 L1528.8 1112.5 L1530.1 1108.3 L1531.4 1105.6 L1532.7 1110.1 L1534.0 1107.2 L1535.3 1108.5 L1536.6 1107.4 L1537.9 1105.0 L1539.2 1110.4 L1540.5 1109.1 L1541.8 1112.9 L1543.1 1104.8 L1544.4 1110.0 L1545.7 1109.1 L1547.0 1109.5 L1548.3 1112.3 L1549.6 1108.5 L1550.9 1110.0 L1552.2 1107.9 L1553.5 1111.7 L1554.8 1110.6 L1556.1 1107.1 L1557.4 1108.6 L1558.7 1109.8 L1560.0 1110.8 L1561.3 1106.8 L1562.6 1111.1 L1563.9 1112.6 L1565.2 1108.3 L1566.5 1105.8 L1567.8 1106.4 L1569.1 1111.7 L1570.4 1109.7 L1571.7 1106.3 L1573.0 1106.7 L1574.3 1112.6 L1575.6 1111.6 L1576.9 1112.0 L1578.2 1107.5 L1579.5 1115.2 L1580.8 1109.1 L1582.1 1110.2 L1583.4 1109.3 L1584.7 1115.5 L1586.0 1112.9 L1587.3 1112.3 L1588.6 1111.2 L1589.9 1113.8 L1591.2 1111.7 L1592.5 1111.7 L1593.8 1109.0 L1595.1 1114.7 L1596.4 1108.0 L1597.7 1115.1 L1599.0 1114.9 L1600.3 1111.3 L1601.6 1108.0 L1602.9 1108.3 L1604.2 1107.5 L1605.5 1112.3 L1606.8 1109.4 L1608.1 1114.8 L1609.4 1109.3 L1610.7 1109.3 L1612.0 1112.3 L1613.3 1114.1 L1614.6 1111.1 L1615.9 1107.5 L1617.2 1107.9 L1618.5 1112.5 L1619.8 1112.8 L1621.1 1114.7 L1622.4 1111.1 L1623.7 1113.0 L1625.0 1112.1 L1626.3 1111.1 L1627.6 1113.4 L1628.9 1116.7 L1630.2 1116.3 L1631.5 1117.6 L1632.8 1118.3 L1633.0 1109.8 L1634.3 1112.7 L1635.6 1125.6 L1636.9 1146.6 L1638.2 1160.3 L1639.5 1161.1 L1640.8 1153.9 L1642.1 1143.1 L1643.4 1132.3 L1644.7 1116.0 L1646.0 1098.6 L1647.3 1081.3 L1648.6 1064.0 L1649.9 1046.7 L1651.2 1029.3 L1652.5 1011.8 L1653.8 992.1 L1655.1 972.4 L1656.4 968.0 L1657.7 964.2 L1659.0 964.9 L1660.3 961.8 L1661.6 961.0 L1662.9 965.1 L1664.2 965.7 L1665.5 968.3 L1666.8 972.4 L1668.1 973.6 L1669.4 972.7 L1670.7 973.0 L1672.0 972.2 L1673.3 974.5 L1674.6 980.9 L1675.9 983.7 L1677.2 991.2 L1678.5 996.1 L1679.8 999.5 L1681.1 1003.3 L1682.4 1005.2 L1683.7 1009.5 L1685.0 1012.1 L1686.3 1012.7 L1687.6 1013.7 L1688.9 1013.7 L1690.2 1015.2 L1691.5 1012.4 L1692.8 1010.0 L1694.1 1007.1 L1695.4 1001.0 L1696.7 1000.4 L1698.0 997.4 L1699.3 996.8 L1700.6 998.4 L1701.9 999.4 L1703.2 1000.2 L1704.5 999.8 L1705.8 1002.3 L1707.1 1002.4 L1708.4 999.3 L1709.7 999.0 L1711.0 997.4 L1712.3 993.3 L1713.6 992.3 L1714.9 991.6 L1716.2 990.8 L1717.5 992.9 L1718.8 991.5 L1720.1 992.7 L1721.4 996.5 L1722.7 997.7 L1724.0 1001.7 L1725.3 1008.4 L1726.6 1011.9 L1727.9 1011.8 L1729.2 1013.2 L1730.5 1011.5 L1731.8 1013.0 L1733.1 1007.7 L1734.4 1005.2 L1735.7 1003.3 L1737.0 1001.4 L1738.3 1000.3 L1739.6 1002.4 L1740.9 1005.0 L1742.2 1007.1 L1743.5 1011.8 L1744.8 1015.4 L1746.1 1016.3 L1747.4 1014.8 L1748.7 1013.2 L1750.0 1015.2 L1751.3 1010.8 L1752.6 1013.1 L1753.9 1012.3 L1755.2 1008.2 L1756.5 1007.0 L1757.8 1007.5 L1759.1 1005.3 L1760.4 1001.7 L1761.7 1000.7 L1763.0 998.8 L1764.3 1000.7 L1765.6 1001.8 L1766.9 1003.9 L1768.2 1002.5 L1769.5 1003.5 L1770.8 1008.5 L1772.1 1009.1 L1773.4 1008.9 L1774.7 1010.4 L1776.0 1011.5 L1777.3 1007.5 L1778.6 1004.5 L1779.9 1000.7 L1781.2 1003.1 L1782.5 1002.8 L1783.8 1002.4 L1785.1 1001.8 L1786.4 1011.5 L1787.7 1016.9 L1789.0 1024.2 L1790.3 1020.9 L1791.6 1021.3 L1792.9 1019.9 L1794.2 1021.4 L1795.5 1020.6 L1796.8 1015.6 L1798.1 1009.6 L1799.4 1004.4 L1800.7 1007.9 L1802.0 1004.6 L1803.3 1007.0 L1804.6 1005.6 L1805.9 1005.2 L1807.2 1005.6 L1808.5 1004.4 L1809.8 1010.4 L1811.1 1023.2 L1812.4 1022.6 L1813.7 1024.4 L1815.0 1023.9 L1816.3 1023.5 L1817.6 1023.8 L1818.9 1022.3 L1820.2 1021.3 L1821.5 1021.5 L1822.8 1023.1 L1824.1 1012.7 L1825.4 1011.6 L1826.7 1010.5 L1828.0 1010.4 L1829.3 1012.6 L1830.6 1019.4 L1831.9 1020.3 L1833.2 1020.0 L1834.5 1018.4 L1835.8 1018.3 L1837.1 1018.3 L1838.4 1019.6 L1839.7 1016.4 L1841.0 1016.5 L1842.3 1018.1 L1843.6 1021.1 L1844.9 1023.0 L1846.2 1026.6 L1847.5 1036.5 L1848.8 1038.2 L1850.1 1034.5 L1851.4 1034.2 L1852.7 1031.7 L1854.0 1028.9 L1855.3 1023.9 L1856.6 1020.3 L1857.9 1018.2 L1859.2 1017.8 L1860.5 1017.3 L1861.8 1016.9 L1863.1 1019.3 L1864.4 1020.3 L1865.7 1023.9 L1867.0 1024.6 L1868.3 1027.3 L1869.6 1025.9 L1870.9 1023.2 L1872.2 1022.5 L1873.5 1018.6 L1874.8 1019.7 L1876.1 1018.1 L1877.4 1019.1 L1878.7 1021.7 L1880.0 1025.1 L1881.3 1028.0 L1882.6 1029.2 L1883.9 1025.9 L1885.2 1027.1 L1886.5 1036.5 L1887.8 1042.4 L1889.1 1040.9 L1890.4 1043.4 L1891.7 1042.9 L1893.0 1036.3 L1894.3 1030.6 L1895.6 1027.7 L1896.9 1026.5 L1898.2 1021.0 L1899.5 1022.3 L1900.8 1022.1 L1902.1 1023.6 L1903.4 1023.8 L1904.7 1023.7 L1906.0 1026.2 L1907.3 1026.7 L1908.6 1029.1 L1909.9 1029.2 L1911.2 1030.5 L1912.5 1032.4 L1913.8 1030.7 L1915.1 1032.9 L1916.4 1030.2 L1917.7 1032.0 L1919.0 1030.3 L1920.3 1032.1 L1921.6 1032.9 L1922.9 1033.5 L1924.2 1033.2 L1925.5 1031.0 L1926.8 1036.6 L1928.1 1038.5 L1929.4 1038.8 L1930.7 1035.7 L1932.0 1034.3 L1933.3 1032.0 L1934.6 1026.5 L1935.9 1027.4 L1937.2 1029.3 L1938.5 1028.7 L1939.8 1028.7 L1941.1 1028.5 L1942.4 1029.8 L1943.7 1029.8 L1945.0 1031.1 L1946.3 1030.9 L1947.6 1030.3 L1948.9 1030.1 L1950.2 1029.8 L1951.5 1033.2 L1952.8 1037.4 L1954.1 1044.9 L1955.4 1045.3 L1956.7 1042.2 L1958.0 1042.6 L1959.3 1038.8 L1960.6 1038.5 L1961.9 1035.3 L1963.2 1030.9 L1964.5 1030.4 L1965.8 1032.6 L1967.1 1033.2 L1968.4 1037.6 L1969.7 1039.5 L1971.0 1035.7 L1972.3 1036.9 L1973.6 1034.4 L1974.9 1034.7 L1976.2 1033.8 L1977.5 1030.8 L1978.8 1031.7 L1980.1 1031.7 L1981.4 1034.0 L1982.7 1036.4 L1984.0 1034.6 L1985.3 1033.1 L1986.6 1036.6 L1987.9 1032.5 L1989.2 1034.2 L1990.5 1032.3 L1991.8 1030.0 L1993.1 1030.6 L1994.4 1027.3 L1995.7 1028.2 L1997.0 1031.0 L1998.3 1028.1 L1999.6 1029.5 L2000.9 1030.3 L2002.2 1032.8 L2003.5 1035.6 L2004.8 1037.9 L2006.1 1036.3 L2007.4 1033.3 L2008.7 1034.2 L2010.0 1032.8 L2011.3 1027.8 L2012.6 1030.6 L2013.9 1030.9 L2015.2 1031.2 L2016.5 1031.9 L2017.8 1032.3 L2019.1 1037.3 L2020.4 1037.2 L2021.7 1042.7 L2023.0 1043.1 L2024.3 1042.3 L2025.6 1040.1 L2026.9 1041.0 L2028.2 1036.1 L2029.5 1035.3 L2030.8 1033.4 L2032.1 1030.2 L2033.4 1034.5 L2034.7 1032.1 L2036.0 1034.2 L2037.3 1033.5 L2038.6 1035.2 L2039.9 1038.3 L2041.2 1038.6 L2042.5 1037.6 L2043.8 1037.9 L2045.1 1035.2 L2046.4 1036.3 L2047.7 1036.4 L2049.0 1031.8 L2050.3 1031.8 L2051.6 1030.5 L2052.9 1028.8 L2054.2 1030.9 L2055.5 1029.4 L2056.8 1029.3 L2058.1 1029.4 L2059.4 1029.8 L2060.7 1028.5 L2062.0 1028.3 L2063.3 1028.1 L2064.6 1029.3 L2065.9 1030.3 L2067.2 1033.6 L2068.5 1032.6 L2069.8 1033.5 L2071.1 1035.4 L2072.4 1036.8 L2073.7 1033.8 L2075.0 1036.3 L2076.3 1036.1 L2077.6 1035.7 L2078.9 1036.8 L2080.2 1036.3 L2081.5 1031.6 L2082.8 1030.2 L2084.1 1027.5 L2085.4 1027.4 L2086.7 1032.3 L2088.0 1033.8 L2089.3 1034.8 L2090.6 1032.7 L2091.9 1032.2 L2093.2 1032.7 L2094.5 1033.5 L2095.8 1031.0 L2097.1 1029.9 L2098.4 1032.7 L2099.7 1035.2 L2101.0 1037.4 L2102.3 1039.7 L2103.6 1035.6 L2104.9 1034.0 L2106.2 1030.1 L2107.5 1027.4 L2108.8 1028.8 L2110.1 1027.1 L2111.4 1028.1 L2112.7 1029.9 L2114.0 1029.0 L2115.3 1030.6 L2116.6 1033.3 L2117.9 1035.1 L2119.2 1037.4 L2120.5 1033.2 L2121.8 1032.1 L2123.1 1033.9 L2124.4 1033.9 L2125.7 1029.9 L2127.0 1030.0 L2128.3 1030.7 L2129.6 1031.3 L2130.9 1034.8 L2132.2 1036.6 L2133.5 1038.8 L2134.8 1034.9 L2136.1 1035.4 L2137.4 1033.5 L2138.7 1031.5 L2140.0 1033.1 L2141.3 1034.5 L2142.6 1034.3 L2143.9 1035.7 L2145.2 1034.7 L2146.5 1033.2 L2147.8 1027.9 L2149.1 1025.5 L2150.4 1023.8 L2151.7 1025.8 L2153.0 1029.7 L2154.3 1031.2 L2155.6 1031.4 L2156.9 1030.6 L2158.2 1029.2 L2159.5 1026.4 L2160.8 1025.1 L2162.1 1027.0 L2163.4 1026.2 L2164.7 1029.9 L2166.0 1030.8 L2167.3 1031.5 L2168.6 1032.0 L2169.9 1036.2 L2171.2 1036.9 L2172.5 1039.0 L2173.8 1040.1 L2175.1 1036.2 L2176.4 1030.9 L2177.7 1026.3 L2179.0 1027.2 L2180.3 1025.6 L2181.6 1023.2 L2182.9 1022.2 L2184.2 1022.5 L2185.5 1022.2 L2186.8 1021.9 L2188.1 1021.7 L2189.4 1022.1 L2190.7 1025.0 L2192.0 1024.1 L2193.3 1025.5 L2194.6 1027.4 L2195.9 1029.2 L2197.2 1028.0 L2198.5 1029.0 L2199.8 1030.8 L2201.1 1029.2 L2202.4 1028.9 L2203.7 1028.6 L2205.0 1027.0 L2206.3 1029.7" stroke="#0072C1" stroke-width="7.8" fill="none" stroke-linejoin="round"/></g>
<text x="128.06" y="183.00" font-family="Liberation Serif, Times New Roman, serif" font-size="69" fill="#404040" textLength="97.19" lengthAdjust="spacingAndGlyphs">400</text>
<text x="126.02" y="405.60" font-family="Liberation Serif, Times New Roman, serif" font-size="69" fill="#404040" textLength="99.28" lengthAdjust="spacingAndGlyphs">200</text>
<text x="192.11" y="629.00" font-family="Liberation Serif, Times New Roman, serif" font-size="69" fill="#404040" textLength="33.19" lengthAdjust="spacingAndGlyphs">0</text>
<text x="125.92" y="905.90" font-family="Liberation Serif, Times New Roman, serif" font-size="69" fill="#404040" textLength="99.49" lengthAdjust="spacingAndGlyphs">200</text>
<text x="130.40" y="1017.00" font-family="Liberation Serif, Times New Roman, serif" font-size="69" fill="#404040" textLength="94.89" lengthAdjust="spacingAndGlyphs">190</text>
<text x="130.40" y="1128.60" font-family="Liberation Serif, Times New Roman, serif" font-size="69" fill="#404040" textLength="94.89" lengthAdjust="spacingAndGlyphs">180</text>
<text x="130.40" y="1240.20" font-family="Liberation Serif, Times New Roman, serif" font-size="69" fill="#404040" textLength="94.89" lengthAdjust="spacingAndGlyphs">170</text>
<text x="130.40" y="1351.80" font-family="Liberation Serif, Times New Roman, serif" font-size="69" fill="#404040" textLength="94.89" lengthAdjust="spacingAndGlyphs">160</text>
<text x="130.40" y="1463.40" font-family="Liberation Serif, Times New Roman, serif" font-size="69" fill="#404040" textLength="94.89" lengthAdjust="spacingAndGlyphs">150</text>
<text x="235.90" y="693.50" font-family="Liberation Serif, Times New Roman, serif" font-size="69" fill="#404040" textLength="35.61" lengthAdjust="spacingAndGlyphs">2</text>
<text x="235.90" y="1527.50" font-family="Liberation Serif, Times New Roman, serif" font-size="69" fill="#404040" textLength="35.61" lengthAdjust="spacingAndGlyphs">2</text>
<text x="584.84" y="693.50" font-family="Liberation Serif, Times New Roman, serif" font-size="69" fill="#404040" textLength="115.08" lengthAdjust="spacingAndGlyphs">2.05</text>
<text x="584.84" y="1527.50" font-family="Liberation Serif, Times New Roman, serif" font-size="69" fill="#404040" textLength="115.08" lengthAdjust="spacingAndGlyphs">2.05</text>
<text x="991.12" y="693.50" font-family="Liberation Serif, Times New Roman, serif" font-size="69" fill="#404040" textLength="79.92" lengthAdjust="spacingAndGlyphs">2.1</text>
<text x="991.12" y="1527.50" font-family="Liberation Serif, Times New Roman, serif" font-size="69" fill="#404040" textLength="79.92" lengthAdjust="spacingAndGlyphs">2.1</text>
<text x="1364.85" y="693.50" font-family="Liberation Serif, Times New Roman, serif" font-size="69" fill="#404040" textLength="114.76" lengthAdjust="spacingAndGlyphs">2.15</text>
<text x="1364.85" y="1527.50" font-family="Liberation Serif, Times New Roman, serif" font-size="69" fill="#404040" textLength="114.76" lengthAdjust="spacingAndGlyphs">2.15</text>
<text x="1771.03" y="693.50" font-family="Liberation Serif, Times New Roman, serif" font-size="69" fill="#404040" textLength="83.90" lengthAdjust="spacingAndGlyphs">2.2</text>
<text x="1771.03" y="1527.50" font-family="Liberation Serif, Times New Roman, serif" font-size="69" fill="#404040" textLength="83.90" lengthAdjust="spacingAndGlyphs">2.2</text>
<text x="2146.06" y="693.50" font-family="Liberation Serif, Times New Roman, serif" font-size="69" fill="#404040" textLength="114.24" lengthAdjust="spacingAndGlyphs">2.25</text>
<text x="2146.06" y="1527.50" font-family="Liberation Serif, Times New Roman, serif" font-size="69" fill="#404040" textLength="114.24" lengthAdjust="spacingAndGlyphs">2.25</text>
<text x="1102.13" y="784.80" font-family="Liberation Serif, Times New Roman, serif" font-size="77" fill="#404040" textLength="251.55" lengthAdjust="spacingAndGlyphs">Time (s)</text>
<text x="1102.13" y="1618.80" font-family="Liberation Serif, Times New Roman, serif" font-size="77" fill="#404040" textLength="251.55" lengthAdjust="spacingAndGlyphs">Time (s)</text>
<text x="0" y="0" transform="translate(92.80 504.68) rotate(-90)" font-family="Liberation Serif, Times New Roman, serif" font-size="77" fill="#404040" textLength="354.06" lengthAdjust="spacingAndGlyphs">phase angle</text>
<text x="0" y="0" transform="translate(93.20 1431.80) rotate(-90)" font-family="Liberation Serif, Times New Roman, serif" font-size="77" fill="#404040" textLength="543.68" lengthAdjust="spacingAndGlyphs">voltage amplitude</text>
<path d="M1314.8 117H1517.9" stroke="#0072C1" stroke-width="7.8" stroke-dasharray="51.3 29.3"/>
<path d="M1670.9 117H1877.1" stroke="#F9520B" stroke-width="7.8"/>
<text x="1535.93" y="137.00" font-family="Liberation Serif, Times New Roman, serif" font-size="62" fill="#000" textLength="99.04" lengthAdjust="spacingAndGlyphs">grid</text>
<text x="1892.62" y="137.00" font-family="Liberation Serif, Times New Roman, serif" font-size="62" fill="#000" textLength="238.46" lengthAdjust="spacingAndGlyphs">microgrid</text>
</svg></body></html>
